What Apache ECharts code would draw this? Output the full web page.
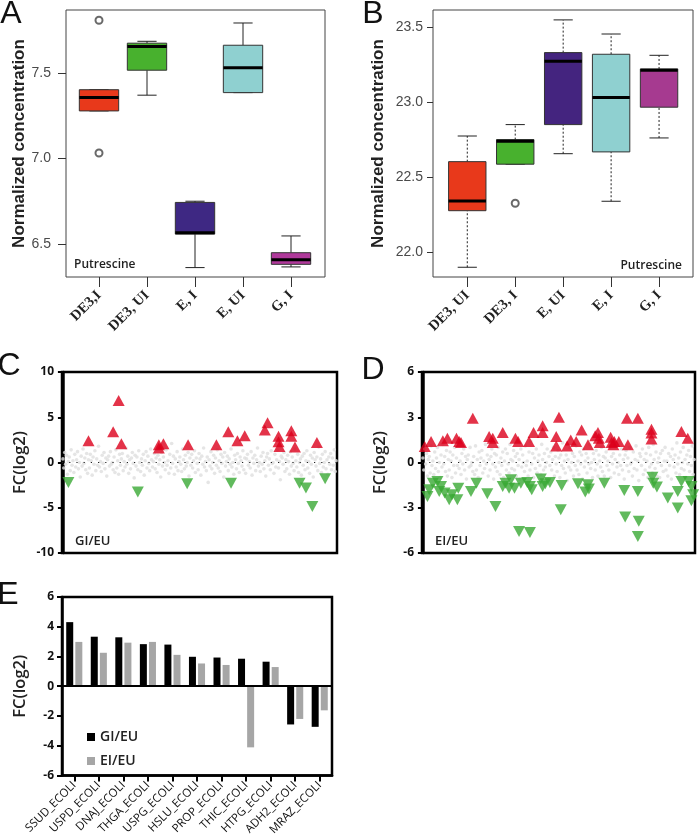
<!DOCTYPE html>
<html>
<head>
<meta charset="utf-8">
<script src="https://cdn.jsdelivr.net/npm/echarts@6/dist/echarts.min.js"></script>
<style>
html,body{margin:0;padding:0;background:#fff;}
#chart{width:700px;height:838px;}
</style>
</head>
<body>
<div id="chart"></div>
<script>
// ---------- Panel A (boxplots) ----------
const catsA = ['DE3,I', 'DE3, UI', 'E, I', 'E, UI', 'G, I'];
const lowA  = [7.278, 7.370, 6.362, 7.385, 6.366];
const q1A   = [7.278, 7.516, 6.558, 7.385, 6.381];
const medA  = [7.356, 7.654, 6.565, 7.531, 6.408];
const q3A   = [7.402, 7.674, 6.743, 7.662, 6.449];
const highA = [7.402, 7.685, 6.750, 7.792, 6.547];
const outA  = [[1, 7.808], [1, 7.032]];
const colorsA = ['#e8391b', '#48b12e', '#3e2883', '#8fd0d0', '#b0399b'];
const ticksA = [6.5, 7.0, 7.5];

// ---------- Panel B (boxplots) ----------
const catsB = ['DE3, UI', 'DE3, I', 'E, UI', 'E, I', 'G, I'];
const lowB  = [21.900, 22.587, 22.657, 22.340, 22.762];
const q1B   = [22.277, 22.587, 22.851, 22.669, 22.967];
const medB  = [22.342, 22.740, 23.273, 23.031, 23.213];
const q3B   = [22.604, 22.751, 23.331, 23.320, 23.222];
const highB = [22.775, 22.851, 23.549, 23.455, 23.313];
const outB  = [[2, 22.327]];
const colorsB = ['#e8391b', '#48b12e', '#44247f', '#8fd0d0', '#a63a90'];
const ticksB = [22.0, 22.5, 23.0, 23.5];

// ---------- Panel C (GI/EU fold changes, protein index vs FC) ----------
const cloudC = [
 0.4,-0.6,1.1,-0.2,0.8,-1.3,0.1,0.6,-0.9,1.4,-0.3,0.2,-1.1,0.9,-0.5,0.3,1.2,-0.7,0.0,-1.6,
 0.7,-0.4,1.5,-0.1,0.5,-0.8,1.0,-1.2,0.3,-0.6,0.9,0.2,-1.4,0.6,-0.2,1.3,-0.9,0.4,-0.3,1.8,
 -0.5,0.1,-1.0,0.8,-0.1,1.1,-0.7,0.5,-1.5,0.3,0.7,-0.4,1.2,-0.2,0.0,-0.8,0.6,-1.1,1.4,-0.6,
 0.2,-1.3,0.9,-0.3,0.4,1.0,-0.9,0.1,-0.5,1.6,-0.2,0.7,-1.2,0.3,-0.7,0.5,1.1,-0.1,-1.7,0.8,
 -0.4,0.6,-0.8,1.3,0.0,-1.0,0.4,-0.3,0.9,-1.4,0.2,1.2,-0.6,0.7,-0.1,-0.9,1.5,0.3,-0.5,0.1,
 1.0,-0.7,0.5,-1.1,0.8,-0.2,0.3,-1.6,1.1,-0.4,0.6,0.0,-0.8,1.4,-0.3,0.2,-1.2,0.9,-0.6,2.1,
 -0.1,0.7,-1.3,0.4,-0.5,1.2,-0.9,0.1,0.6,-0.2,-1.0,1.5,0.3,-0.7,0.8,-0.4,0.0,1.1,-1.5,0.5,
 -0.3,0.9,-0.6,0.2,1.3,-1.1,0.5,-0.1,-0.8,1.0,0.4,-1.4,0.7,-0.2,1.6,-0.5,0.1,-0.9,0.6,-2.2,
 0.3,-0.4,1.2,-0.7,0.0,0.8,-1.2,0.5,-0.3,1.4,-0.6,0.2,-1.0,0.9,-0.1,0.6,-1.6,1.1,-0.4,0.1,
 0.7,-0.9,0.4,-0.2,1.5,-0.5,0.0,-1.3,0.8,0.3,-0.7,1.0,-0.1,-1.1,0.6,0.2,-0.4,1.3,-0.8,0.5,
 -1.2,0.4,0.9,-0.3,0.1,-0.6,1.2,-1.4,0.5,-0.1,0.8,-0.9,0.3,1.6,-0.4,0.0,-1.0,0.7,-0.2,1.1,
 -0.7,0.2,-1.5,0.6,1.0,-0.3,0.4,-0.8,1.3,-0.1,0.0,-1.2,0.9,-0.5,0.3,1.4,-0.6,0.1,-1.9,0.7,
 0.5,-0.2,1.1,-1.0,0.3,-0.7,0.8,0.1,-1.3,1.2,-0.4,0.6,-0.1,-0.9,1.5,0.2,-0.5,0.9,-1.1,0.0,
 0.4,-1.4,0.7,-0.3,1.0,-0.8,0.2,1.3,-0.6,0.1,-1.2,0.8,-0.2,0.5,-1.6,1.1,0.3,-0.4,0.6,-0.9,
 1.7,-0.1,0.4,-1.1,0.9,-0.5,0.0,1.2,-0.7,0.3,-1.3,0.6,-0.2,1.0,-0.8,0.5,-0.3,1.4,-1.0,0.2
];
const upC = [[28,2.4],[55,3.4],[61,6.85],[64,2.07],[105,1.96],[105,1.6],[110,2.07],[137,1.96],
 [168,1.96],[181,3.4],[191,2.4],[199,2.96],[221,3.6],[224,4.4],[236,2.9],[236,2.3],[237,1.77],
 [250,3.5],[250,2.9],[254,1.7],[278,2.2]];
const downC = [[6,-2.2],[82,-3.27],[136,-2.35],[184,-2.28],[259,-2.28],[266,-2.83],[273,-4.86],[287,-1.8]];

// ---------- Panel D (EI/EU fold changes) ----------
const cloudD = [
 0.3,-0.5,0.9,-0.1,0.6,-0.9,0.2,0.4,-0.7,1.1,-0.2,0.1,-0.8,0.7,-0.4,0.3,1.0,-0.6,0.0,-1.0,
 0.5,-0.3,1.2,-0.1,0.4,-0.6,0.8,-0.9,0.2,-0.5,0.7,0.1,-1.0,0.5,-0.2,1.0,-0.7,0.3,-0.2,1.3,
 -0.4,0.1,-0.8,0.6,-0.1,0.9,-0.5,0.4,-1.1,0.2,0.5,-0.3,1.0,-0.2,0.0,-0.6,0.4,-0.8,1.1,-0.5,
 0.2,-1.0,0.7,-0.2,0.3,0.8,-0.7,0.1,-0.4,1.2,-0.1,0.5,-0.9,0.2,-0.5,0.4,0.9,-0.1,-1.1,0.6,
 -0.3,0.5,-0.6,1.0,0.0,-0.8,0.3,-0.2,0.7,-1.0,0.1,0.9,-0.5,0.6,-0.1,-0.7,1.2,0.2,-0.4,0.1,
 0.8,-0.5,0.4,-0.9,0.6,-0.2,0.2,-1.1,0.9,-0.3,0.5,0.0,-0.6,1.1,-0.2,0.1,-0.9,0.7,-0.5,1.4,
 -0.1,0.6,-1.0,0.3,-0.4,0.9,-0.7,0.1,0.5,-0.2,-0.8,1.2,0.2,-0.5,0.6,-0.3,0.0,0.9,-1.1,0.4,
 -0.2,0.7,-0.5,0.2,1.0,-0.9,0.4,-0.1,-0.6,0.8,0.3,-1.0,0.5,-0.2,1.3,-0.4,0.1,-0.7,0.5,-1.2,
 0.2,-0.3,1.0,-0.5,0.0,0.6,-0.9,0.4,-0.2,1.1,-0.5,0.1,-0.8,0.7,-0.1,0.5,-1.1,0.9,-0.3,0.1,
 0.6,-0.7,0.3,-0.1,1.2,-0.4,0.0,-1.0,0.6,0.2,-0.5,0.8,-0.1,-0.9,0.5,0.1,-0.3,1.0,-0.6,0.4,
 -0.9,0.3,0.7,-0.2,0.1,-0.5,1.0,-1.0,0.4,-0.1,0.6,-0.7,0.2,1.2,-0.3,0.0,-0.8,0.5,-0.2,0.9,
 -0.5,0.2,-1.1,0.5,0.8,-0.2,0.3,-0.6,1.0,-0.1,0.0,-0.9,0.7,-0.4,0.2,1.1,-0.5,0.1,-1.2,0.6,
 0.4,-0.2,0.9,-0.8,0.2,-0.5,0.6,0.1,-1.0,1.0,-0.3,0.5,-0.1,-0.7,1.2,0.2,-0.4,0.7,-0.9,0.0,
 0.3,-1.0,0.6,-0.2,0.8,-0.6,0.1,1.0,-0.5,0.1,-0.9,0.6,-0.2,0.4,-1.1,0.9,0.2,-0.3,0.5,-0.7,
 1.3,-0.1,0.3,-0.8,0.7,-0.4,0.0,1.0,-0.5,0.2,-1.0,0.5,-0.1,0.8,-0.6,0.4,-0.2,1.1,-0.8,0.2
];
const upD = [[2,1.06],[9,1.39],[22,1.44],[27,1.6],[37,1.6],[40,1.39],[42,1.33],[55,2.94],[73,1.72],
 [77,1.6],[77,1.33],[88,1.99],[102,1.6],[105,1.39],[117,1.39],[122,1.99],[132,2.43],[132,1.99],
 [147,1.72],[147,1.1],[150,3.0],[159,1.1],[163,1.5],[169,1.39],[175,2.16],[182,1.17],[190,1.77],
 [193,1.99],[194,1.6],[195,1.33],[207,1.68],[208,1.33],[210,1.17],[211,1.39],[216,1.39],[225,2.94],
 [226,1.17],[237,2.94],[252,2.21],[252,1.95],[252,1.55],[285,2.05],[292,1.6]];
const downD = [[5,-2.25],[7,-1.81],[11,-1.37],[16,-1.26],[18,-1.92],[20,-1.59],[24,-2.03],[29,-2.47],
 [32,-2.14],[38,-2.47],[39,-1.7],[53,-1.92],[59,-1.37],[71,-2.07],[80,-2.91],[88,-1.59],[91,-1.37],
 [97,-1.15],[95,-1.7],[101,-1.7],[108,-1.37],[115,-1.32],[118,-1.59],[120,-1.81],[130,-1.1],
 [132,-1.59],[135,-1.41],[140,-1.32],[153,-1.52],[152,-3.13],[171,-1.41],[179,-1.96],[182,-1.48],
 [183,-1.76],[200,-1.37],[222,-1.85],[223,-3.62],[237,-1.92],[238,-3.9],[253,-0.97],[254,-1.37],
 [258,-1.63],[270,-2.36],[281,-1.92],[281,-3.02],[285,-1.26],[293,-1.26],[296,-1.59],[298,-2.14],
 [296,-2.54],[106,-4.57],[118,-4.64],[237,-4.9]];

// ---------- Panel E (bar chart) ----------
const catsE = ['SSUD_ECOLI','USPD_ECOLI','DNAJ_ECOLI','THGA_ECOLI','USPG_ECOLI','HSLU_ECOLI',
 'PROP_ECOLI','THIC_ECOLI','HTPG_ECOLI','ADH2_ECOLI','MRAZ_ECOLI'];
const giEU = [4.31, 3.33, 3.29, 2.83, 2.80, 1.98, 1.93, 1.85, 1.65, -2.57, -2.73];
const eiEU = [2.98, 2.25, 2.93, 2.98, 2.11, 1.53, 1.43, -4.11, 1.29, -2.20, -1.62];

// ---------- helpers ----------
function boxData(low, q1, med, q3, high) {
  return low.map((v, i) => [i + 1, v, q1[i], med[i], q3[i], high[i]]);
}
function boxRenderer(colors, halfW, capW, dash) {
  return function (params, api) {
    const x = api.value(0);
    const lo = api.coord([x, api.value(1)]);
    const q1 = api.coord([x, api.value(2)]);
    const md = api.coord([x, api.value(3)]);
    const q3 = api.coord([x, api.value(4)]);
    const hi = api.coord([x, api.value(5)]);
    const l = api.coord([x - halfW, api.value(3)])[0];
    const r = api.coord([x + halfW, api.value(3)])[0];
    const cl = api.coord([x - capW, api.value(3)])[0];
    const cr = api.coord([x + capW, api.value(3)])[0];
    const ws = { stroke: '#222', lineWidth: 1, lineDash: dash };
    return { type: 'group', children: [
      { type: 'line', shape: { x1: lo[0], y1: lo[1], x2: q1[0], y2: q1[1] }, style: ws },
      { type: 'line', shape: { x1: q3[0], y1: q3[1], x2: hi[0], y2: hi[1] }, style: ws },
      { type: 'line', shape: { x1: cl, y1: lo[1], x2: cr, y2: lo[1] }, style: { stroke: '#222', lineWidth: 1 } },
      { type: 'line', shape: { x1: cl, y1: hi[1], x2: cr, y2: hi[1] }, style: { stroke: '#222', lineWidth: 1 } },
      { type: 'rect', shape: { x: l, y: q3[1], width: r - l, height: q1[1] - q3[1] },
        style: { fill: colors[params.dataIndex], stroke: '#333', lineWidth: 1 } },
      { type: 'line', shape: { x1: l, y1: md[1], x2: r, y2: md[1] }, style: { stroke: '#000', lineWidth: 3 } }
    ]};
  };
}

const sans = 'Liberation Sans';
const open = 'Open Sans';
const serif = 'Liberation Serif';

function boxXAxis(grid, cats, min, max) {
  return {
    gridIndex: grid, type: 'value', min: min, max: max,
    axisLine: { show: false }, splitLine: { show: false },
    axisTick: { show: true, customValues: [1, 2, 3, 4, 5], length: 10, lineStyle: { color: '#333', width: 1 } },
    axisLabel: { customValues: [1, 2, 3, 4, 5], formatter: v => cats[Math.round(v) - 1],
      rotate: 45, margin: 16, fontFamily: serif, fontWeight: 'bold', fontSize: 14.5, color: '#222' }
  };
}
function boxYAxis(grid, min, max, ticks, gap, lblMargin, tickLen) {
  return {
    gridIndex: grid, type: 'value', min: min, max: max,
    axisLine: { show: false }, splitLine: { show: false },
    axisTick: { show: true, customValues: ticks, length: tickLen, lineStyle: { color: '#333', width: 1 } },
    axisLabel: { customValues: ticks, formatter: v => v.toFixed(1), margin: lblMargin,
      fontFamily: sans, fontSize: 14, color: '#4a4a4a' },
    name: 'Normalized concentration', nameLocation: 'middle', nameGap: gap,
    nameTextStyle: { fontFamily: sans, fontWeight: 'bold', fontSize: 17, color: '#222' }
  };
}
function fcYAxis(grid, lim, step, gap) {
  return {
    gridIndex: grid, type: 'value', min: -lim, max: lim, interval: step,
    axisLine: { show: true, lineStyle: { color: '#000', width: 2.5 } },
    splitLine: { show: false },
    axisTick: { show: true, length: 5, lineStyle: { color: '#000', width: 2 } },
    axisLabel: { margin: 8, fontFamily: open, fontWeight: 'bold', fontSize: 12, color: '#111' },
    name: 'FC(log2)', nameLocation: 'middle', nameGap: gap,
    nameTextStyle: { fontFamily: open, fontWeight: 600, fontSize: 16.5, color: '#222' }
  };
}
function hiddenX(grid, min, max) {
  return { gridIndex: grid, type: 'value', min: min, max: max, show: false,
    axisLine: { show: false }, axisTick: { show: false }, axisLabel: { show: false }, splitLine: { show: false } };
}
function cloudSeries(ax, ys) {
  return {
    type: 'scatter', xAxisIndex: ax, yAxisIndex: ax, silent: true, z: 1,
    symbol: 'circle', symbolSize: 3.6, itemStyle: { color: '#dedede' },
    data: ys.map((y, i) => [i, y]),
    markLine: { silent: true, symbol: 'none', label: { show: false },
      lineStyle: { color: '#222', type: [1.2, 6], width: 1.2 }, data: [{ yAxis: 0 }] }
  };
}
function triSeries(ax, pts, up) {
  return {
    type: 'scatter', xAxisIndex: ax, yAxisIndex: ax, z: 3,
    symbol: 'triangle', symbolRotate: up ? 0 : 180, symbolSize: [12, 11],
    itemStyle: { color: up ? '#dc001b' : '#3aa935' },
    data: pts
  };
}
function letter(t, x, y) {
  return { type: 'text', x: x, y: y, style: { text: t, fontFamily: sans, fontSize: 32,
    fill: '#111', align: 'center', verticalAlign: 'middle' } };
}
function note(t, x, y, align, size) {
  return { type: 'text', x: x, y: y, style: { text: t, fontFamily: open, fontWeight: 600,
    fontSize: size, fill: '#222', align: align, verticalAlign: 'middle' } };
}

const option = {
  animation: false,
  backgroundColor: '#fff',
  grid: [
    { left: 66, top: 10, width: 259, height: 267, show: true, borderColor: '#444', borderWidth: 1 },
    { left: 433, top: 10, width: 260, height: 267, show: true, borderColor: '#444', borderWidth: 1 },
    { left: 62, top: 372, width: 275, height: 181, show: true, borderColor: '#000', borderWidth: 2.5 },
    { left: 422, top: 372, width: 273, height: 181, show: true, borderColor: '#000', borderWidth: 2.5 },
    { left: 62, top: 597, width: 270, height: 180, show: true, borderColor: '#000', borderWidth: 2.5 }
  ],
  xAxis: [
    boxXAxis(0, catsA, 0.3125, 5.708),
    boxXAxis(1, catsB, 0.285, 5.708),
    hiddenX(2, -1, 300),
    hiddenX(3, -1, 300),
    { gridIndex: 4, type: 'category', data: catsE,
      axisLine: { show: true, onZero: false, lineStyle: { color: '#000', width: 2.5 } },
      axisTick: { show: true, alignWithLabel: true, length: 6, lineStyle: { color: '#000', width: 2 } },
      axisLabel: { rotate: 45, margin: 8, fontFamily: open, fontSize: 11.5, color: '#111', interval: 0 },
      splitLine: { show: false } }
  ],
  yAxis: [
    boxYAxis(0, 6.307, 7.868, ticksA, 37, 15, 8),
    boxYAxis(1, 21.835, 23.615, ticksB, 46, 10, 6),
    fcYAxis(2, 10, 5, 33),
    fcYAxis(3, 6, 3, 33),
    fcYAxis(4, 6, 2, 33)
  ],
  legend: {
    data: ['GI/EU', 'EI/EU'], orient: 'vertical', left: 82, top: 724,
    icon: 'rect', itemWidth: 8, itemHeight: 8, itemGap: 8,
    textStyle: { fontFamily: open, fontWeight: 600, fontSize: 14, color: '#222', lineHeight: 16 }
  },
  series: [
    { type: 'custom', xAxisIndex: 0, yAxisIndex: 0, encode: { x: 0, y: [1, 2, 3, 4, 5] },
      renderItem: boxRenderer(colorsA, 0.41, 0.2, null), data: boxData(lowA, q1A, medA, q3A, highA) },
    { type: 'scatter', xAxisIndex: 0, yAxisIndex: 0, symbol: 'emptyCircle', symbolSize: 7,
      itemStyle: { color: '#444', borderWidth: 1 }, data: outA },
    { type: 'custom', xAxisIndex: 1, yAxisIndex: 1, encode: { x: 0, y: [1, 2, 3, 4, 5] },
      renderItem: boxRenderer(colorsB, 0.39, 0.2, [2, 2]), data: boxData(lowB, q1B, medB, q3B, highB) },
    { type: 'scatter', xAxisIndex: 1, yAxisIndex: 1, symbol: 'emptyCircle', symbolSize: 7,
      itemStyle: { color: '#444', borderWidth: 1 }, data: outB },
    cloudSeries(2, cloudC), triSeries(2, upC, true), triSeries(2, downC, false),
    cloudSeries(3, cloudD), triSeries(3, upD, true), triSeries(3, downD, false),
    { name: 'GI/EU', type: 'bar', xAxisIndex: 4, yAxisIndex: 4, data: giEU,
      barWidth: 7, barGap: '30%', itemStyle: { color: '#000' },
      markLine: { silent: true, symbol: 'none', label: { show: false },
        lineStyle: { color: '#000', type: 'solid', width: 2 }, data: [{ yAxis: 0 }] } },
    { name: 'EI/EU', type: 'bar', xAxisIndex: 4, yAxisIndex: 4, data: eiEU,
      barWidth: 7, barGap: '30%', itemStyle: { color: '#a6a6a6' } }
  ],
  graphic: [
    letter('A', 11, 14), letter('B', 373, 14), letter('C', 9, 366), letter('D', 373, 370), letter('E', 8, 595),
    note('Putrescine', 74, 265, 'left', 12), note('Putrescine', 682, 266, 'right', 12),
    note('GI/EU', 75, 541, 'left', 13), note('EI/EU', 435, 541, 'left', 13)
  ]
};

const chart = echarts.init(document.getElementById('chart'), null, { renderer: 'canvas' });
chart.setOption(option);
</script>
</body>
</html>
